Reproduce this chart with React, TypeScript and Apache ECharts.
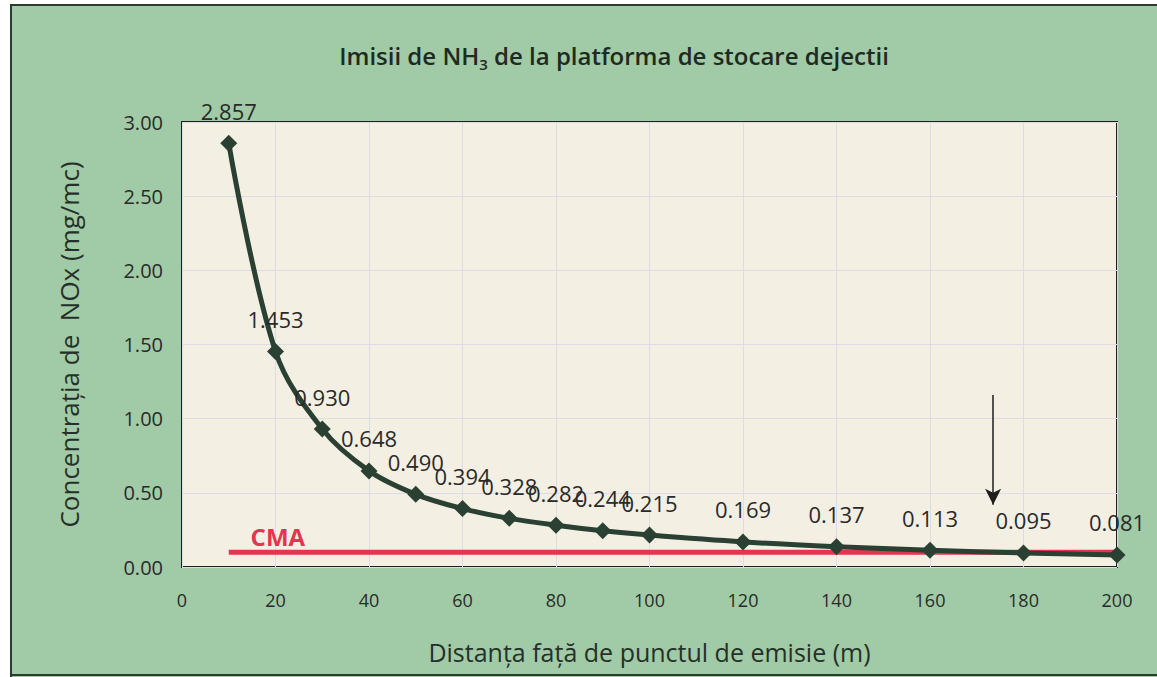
import React, { useEffect, useRef } from "react";
import * as echarts from "echarts";

const distances = [10, 20, 30, 40, 50, 60, 70, 80, 90, 100, 120, 140, 160, 180, 200];
const concentrations = [2.857, 1.453, 0.93, 0.648, 0.49, 0.394, 0.328, 0.282, 0.244, 0.215, 0.169, 0.137, 0.113, 0.095, 0.081];
const cmaValue = 0.1;
const cmaRange = [10, 200];
const arrowX = 173.5;
const arrowFromTo = [1.16, 0.42];

const FONT = "'Open Sans', 'Noto Sans', sans-serif";

export default function App() {
  const ref = useRef<HTMLDivElement>(null);
  useEffect(() => {
    document.body.style.margin = "0";
    const chart = echarts.init(ref.current!, undefined, { renderer: "svg" });
    const data = distances.map((d, i) => [d, concentrations[i]]);
    chart.setOption({
      animation: false,
      backgroundColor: "#a0cba6",
      textStyle: { fontFamily: FONT },
      title: {
        text: "Imisii de NH{sub|3} de la platforma de stocare dejectii",
        left: 609,
        textAlign: "center",
        top: 34,
        textStyle: {
          fontFamily: FONT,
          fontSize: 24,
          fontWeight: 600,
          color: "#1f2a22",
          lineHeight: 32,
          rich: {
            sub: { fontSize: 15, fontWeight: 600, color: "#1f2a22", verticalAlign: "bottom", lineHeight: 22, padding: [14, 0, 0, 0] },
          },
        },
      },
      graphic: [
        { type: "rect", shape: { x: 0, y: 0, width: 1157, height: 4 }, style: { fill: "#ffffff" } },
        { type: "rect", shape: { x: 0, y: 0, width: 10, height: 677 }, style: { fill: "#ffffff" } },
        { type: "line", shape: { x1: 10, y1: 5, x2: 1157, y2: 5 }, style: { stroke: "#2b3a30", lineWidth: 2 } },
        { type: "line", shape: { x1: 11, y1: 4, x2: 11, y2: 677 }, style: { stroke: "#2b3a30", lineWidth: 2 } },
        { type: "line", shape: { x1: 10, y1: 675, x2: 1157, y2: 675 }, style: { stroke: "#2b3a30", lineWidth: 2 } },
      ],
      grid: {
        left: 182,
        top: 122,
        right: 40,
        bottom: 110,
        show: true,
        backgroundColor: "#f3efe3",
        borderColor: "#1e1e1e",
        borderWidth: 2,
        containLabel: false,
      },
      xAxis: {
        type: "value",
        min: 0,
        max: 200,
        interval: 20,
        name: "Distanța față de punctul de emisie (m)",
        nameLocation: "middle",
        nameGap: 72,
        nameTextStyle: { fontFamily: FONT, fontSize: 25, color: "#26302a" },
        axisLine: { show: false },
        axisTick: { show: false },
        axisLabel: { margin: 24, fontSize: 18, color: "#2a2a2a", fontFamily: FONT },
        splitLine: { show: true, lineStyle: { color: "#dcdbe6", width: 1 } },
      },
      yAxis: {
        type: "value",
        min: 0,
        max: 3,
        interval: 0.5,
        name: "Concentrația de  NOx (mg/mc)",
        nameLocation: "middle",
        nameGap: 100,
        nameTextStyle: { fontFamily: FONT, fontSize: 26, color: "#26302a" },
        axisLine: { show: false },
        axisTick: { show: false },
        axisLabel: { margin: 19, fontSize: 20, color: "#2a2a2a", fontFamily: FONT, formatter: (v: number) => v.toFixed(2) },
        splitLine: { show: true, lineStyle: { color: "#dcdbe6", width: 1 } },
      },
      series: [
        {
          name: "CMA",
          type: "line",
          data: cmaRange.map((x) => [x, cmaValue]),
          showSymbol: false,
          symbol: "none",
          lineStyle: { color: "#e6334f", width: 5 },
          z: 2,
          markPoint: {
            symbol: "circle",
            symbolSize: 0,
            data: [{ coord: [20.5, cmaValue] }],
            label: {
              show: true,
              formatter: "CMA",
              position: "top",
              distance: 4,
              fontSize: 24,
              fontWeight: "bold",
              color: "#e6334f",
              fontFamily: FONT,
            },
          },
          markLine: {
            silent: true,
            symbol: ["none", "arrow"],
            symbolSize: [12, 16],
            lineStyle: { color: "#1e1e1e", width: 1.5, type: "solid" },
            label: { show: false },
            data: [[{ coord: [arrowX, arrowFromTo[0]] }, { coord: [arrowX, arrowFromTo[1]] }]],
          },
        },
        {
          name: "NH3",
          type: "line",
          data,
          smooth: 0.35,
          symbol: "diamond",
          symbolSize: 17,
          itemStyle: { color: "#2a4032" },
          lineStyle: { color: "#2a4032", width: 5 },
          z: 3,
          label: {
            show: true,
            position: "top",
            distance: 13,
            fontSize: 22,
            color: "#2a2a2a",
            fontFamily: FONT,
            formatter: (p: any) => p.value[1].toFixed(3),
          },
        },
      ],
    });
    return () => chart.dispose();
  }, []);
  return <div ref={ref} style={{ width: 1157, height: 677 }} />;
}
